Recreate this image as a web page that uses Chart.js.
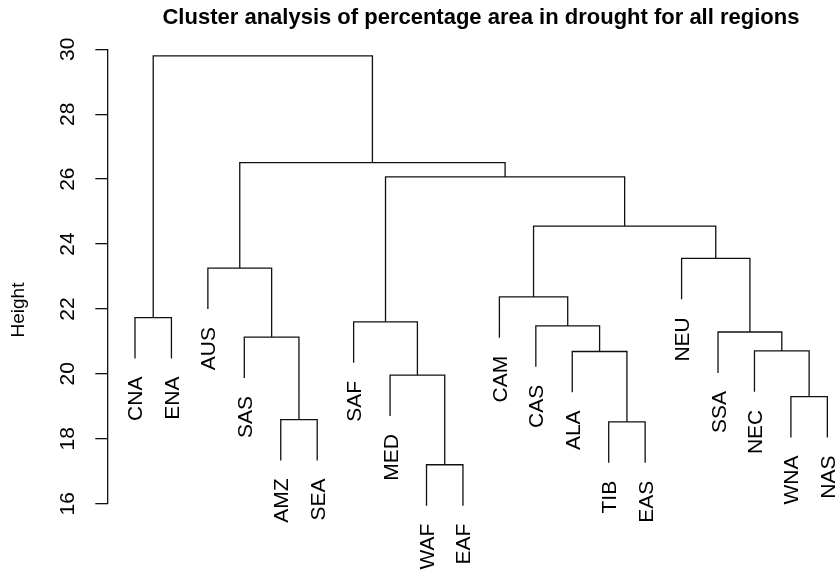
<!DOCTYPE html>
<html>
<head>
<meta charset="utf-8">
<script src="https://cdn.jsdelivr.net/npm/chart.js@4.4.1/dist/chart.umd.min.js"></script>
<style>
  html, body { margin: 0; padding: 0; background: #ffffff; }
  #wrap { width: 835px; height: 573px; overflow: hidden; }
</style>
</head>
<body>
<div id="wrap"><canvas id="dendro" width="835" height="573"></canvas></div>
<script>
// Leaf order along the x axis (left to right)
const leafLabels = ['CNA', 'ENA', 'AUS', 'SAS', 'AMZ', 'SEA', 'SAF', 'MED', 'WAF', 'EAF',
                    'CAM', 'CAS', 'ALA', 'TIB', 'EAS', 'NEU', 'SSA', 'NEC', 'WNA', 'NAS'];

// Agglomeration steps: negative = leaf (1-based position), positive = earlier step
const mergeLeft  = [-9, -14, -5, -19, -8, -13, -18, -4, -17, -12, -7, -1, -11, -3, -16, 13, 11, 14, 12];
const mergeRight = [-10, -15, -6, -20, 1, 2, 4, 3, 7, 6, 5, -2, 10, 8, 9, 15, 16, 17, 18];

// Height at which each step joins its two clusters
const mergeHeights = [17.20, 18.52, 18.59, 19.30, 19.96, 20.69, 20.71, 21.13, 21.29, 21.48,
                      21.60, 21.73, 22.37, 23.26, 23.56, 24.55, 26.07, 26.51, 29.80];

// Y axis ticks
const yTicks = [16, 18, 20, 22, 24, 26, 28, 30];

const FONT = "'Liberation Sans', Arial, Helvetica, sans-serif";
const hang = 0.1 * (Math.max(...mergeHeights) - Math.min(...mergeHeights));

// Build the link paths and leaf tips from the merge table
const nodeX = [];
const segments = [];
const leafTips = [];
function childInfo(id, h) {
  if (id < 0) {
    const x = -id;
    const bottom = h - hang;
    leafTips.push({ x: x, y: bottom, label: leafLabels[x - 1] });
    return { x: x, y: bottom };
  }
  return { x: nodeX[id - 1], y: mergeHeights[id - 1] };
}
mergeHeights.forEach((h, i) => {
  const a = childInfo(mergeLeft[i], h);
  const b = childInfo(mergeRight[i], h);
  nodeX[i] = (a.x + b.x) / 2;
  segments.push({ x: a.x, y: a.y }, { x: a.x, y: h }, { x: b.x, y: h }, { x: b.x, y: b.y }, { x: NaN, y: NaN });
});

// Leaf names hanging under each leaf tip, plus the y axis title
const leafLabelPlugin = {
  id: 'leafLabels',
  afterLayout(chart) {
    // centre the title over the full plot region, which runs past the canvas edge
    if (chart.titleBlock) chart.titleBlock.right += 19.6;
  },
  afterDraw(chart) {
    const ctx = chart.ctx;
    const xs = chart.scales.x, ys = chart.scales.y;
    ctx.save();
    ctx.fillStyle = '#000';
    ctx.font = '21px ' + FONT;
    ctx.textAlign = 'right';
    ctx.textBaseline = 'alphabetic';
    leafTips.forEach(t => {
      const px = xs.getPixelForValue(t.x);
      const py = ys.getPixelForValue(t.y);
      ctx.save();
      ctx.translate(px + 7.5, py + 18);
      ctx.rotate(-Math.PI / 2);
      ctx.fillText(t.label, 0, 0);
      ctx.restore();
    });
    ctx.font = '19px ' + FONT;
    ctx.textAlign = 'center';
    ctx.save();
    ctx.translate(24, 310);
    ctx.rotate(-Math.PI / 2);
    ctx.fillText('Height', 0, 0);
    ctx.restore();
    ctx.restore();
  }
};

new Chart(document.getElementById('dendro'), {
  type: 'scatter',
  data: {
    datasets: [{
      data: segments,
      showLine: true,
      spanGaps: false,
      borderColor: '#111',
      borderWidth: 1.3,
      pointRadius: 0,
      pointHoverRadius: 0,
      tension: 0,
      clip: false
    }]
  },
  options: {
    responsive: false,
    animation: false,
    events: [],
    layout: { padding: { top: 0, right: 0, bottom: 69.3, left: 0 } },
    plugins: {
      legend: { display: false },
      tooltip: { enabled: false },
      title: {
        display: true,
        fullSize: false,
        text: 'Cluster analysis of percentage area in drought for all regions',
        color: '#000',
        font: { family: FONT, size: 22, weight: 'bold', lineHeight: 1.2 },
        padding: { top: 4.5, bottom: 18.4 }
      }
    },
    scales: {
      x: { type: 'linear', min: 0.24, max: 20.21, display: false },
      y: {
        type: 'linear',
        min: 16,
        max: 30,
        afterFit(scale) { scale.width = 107.3; },
        afterBuildTicks(scale) { scale.ticks = yTicks.map(v => ({ value: v })); },
        border: { display: true, color: '#111', width: 1.3 },
        grid: { drawOnChartArea: false, drawTicks: true, tickLength: 12, color: '#111', lineWidth: 1.3 },
        ticks: {
          color: '#000',
          font: { family: FONT, size: 21 },
          minRotation: 90,
          maxRotation: 90,
          crossAlign: 'center',
          padding: 15.8
        }
      }
    }
  },
  plugins: [leafLabelPlugin]
});
</script>
</body>
</html>
